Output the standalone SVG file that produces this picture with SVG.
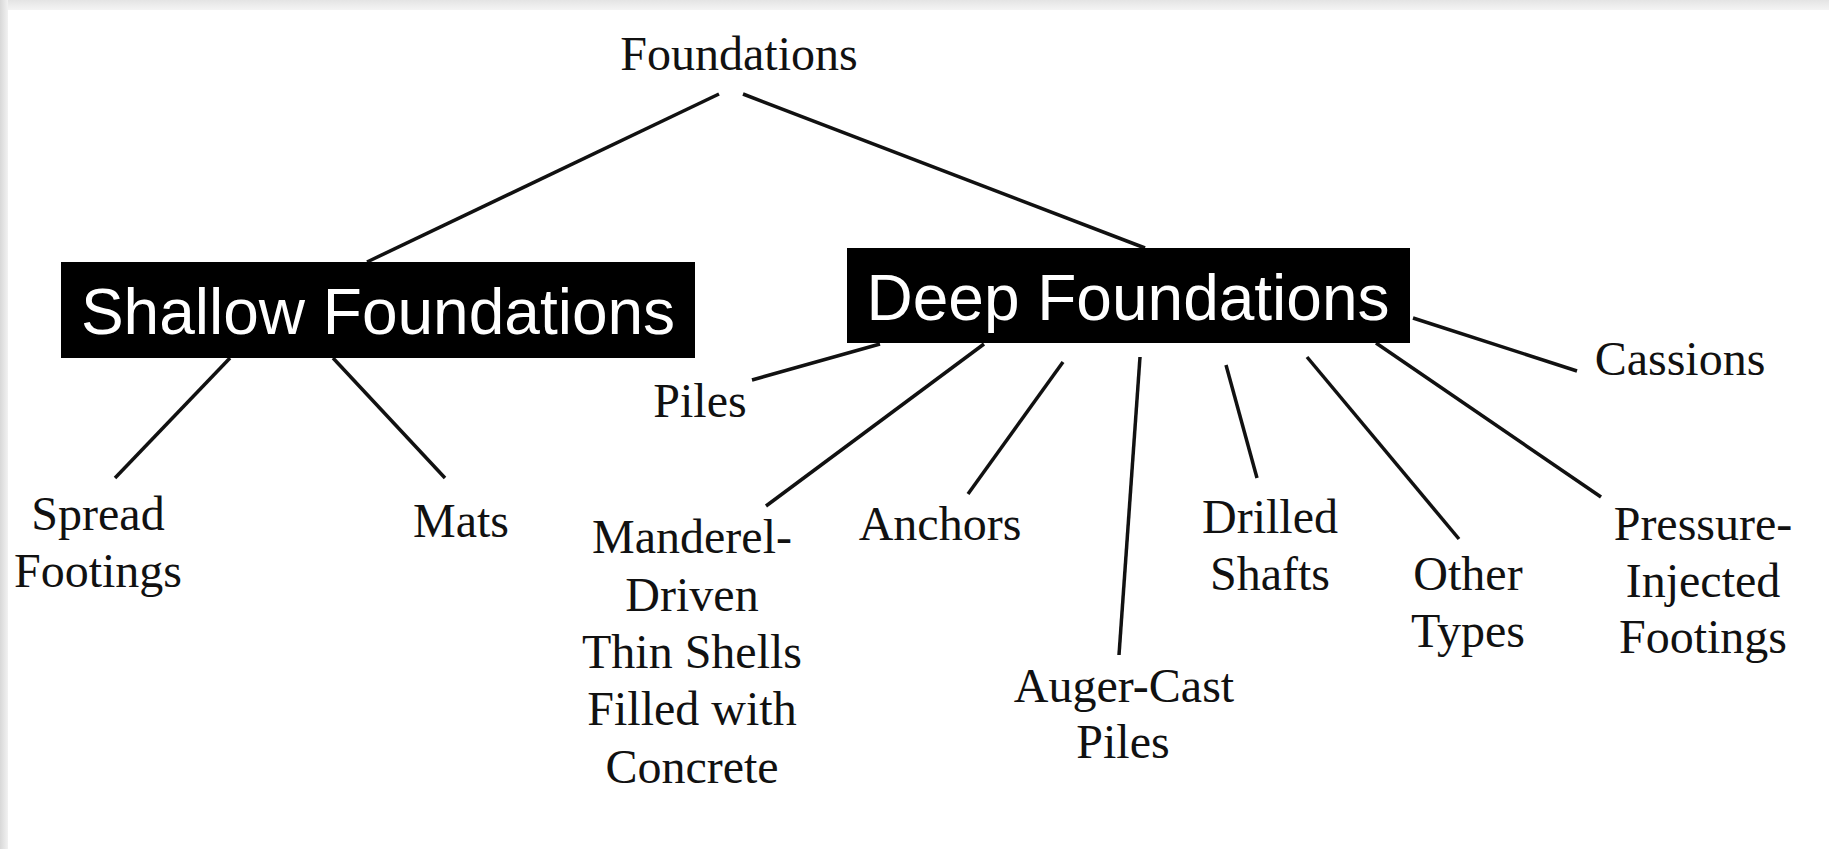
<svg xmlns="http://www.w3.org/2000/svg" width="1829" height="849" viewBox="0 0 1829 849">
<defs>
<linearGradient id="gl" x1="0" y1="0" x2="1" y2="0"><stop offset="0" stop-color="#d8d8d8"/><stop offset="1" stop-color="#f2f2f2"/></linearGradient>
<linearGradient id="gt" x1="0" y1="0" x2="0" y2="1"><stop offset="0" stop-color="#e4e4e4"/><stop offset="1" stop-color="#f4f4f4"/></linearGradient>
</defs>
<style>
.t{font-family:"Liberation Serif","Times New Roman",serif;font-size:48px;fill:#111;text-anchor:middle}
.b{font-family:"Liberation Sans",Arial,sans-serif;font-size:64px;fill:#fff;text-anchor:middle}
.c line{stroke:#111;stroke-width:3.5;stroke-linecap:butt}
</style>
<rect x="0" y="0" width="1829" height="849" fill="#fff"/>
<rect x="0" y="0" width="1829" height="10" fill="url(#gt)"/>
<rect x="0" y="0" width="8" height="849" fill="url(#gl)"/>
<g class="c" id="connectors">
<line x1="719" y1="94" x2="367" y2="262"/>
<line x1="743" y1="94" x2="1145" y2="248"/>
<line x1="230" y1="358" x2="115" y2="478"/>
<line x1="333" y1="358" x2="445" y2="478"/>
<line x1="880" y1="344" x2="752" y2="380"/>
<line x1="984" y1="344" x2="766" y2="506"/>
<line x1="1063" y1="362" x2="968" y2="494"/>
<line x1="1140" y1="357" x2="1119" y2="655"/>
<line x1="1226" y1="365" x2="1257" y2="478"/>
<line x1="1307" y1="357" x2="1459" y2="539"/>
<line x1="1376" y1="343" x2="1601" y2="497"/>
<line x1="1413" y1="318" x2="1577" y2="371"/>
</g>
<g id="foundations"><text class="t" x="739" y="70">Foundations</text></g>
<g id="shallow"><rect x="61" y="262" width="634" height="96" fill="#000"/><text class="b" x="378" y="334">Shallow Foundations</text></g>
<g id="deep"><rect x="847" y="248" width="563" height="95" fill="#000"/><text class="b" x="1128" y="320">Deep Foundations</text></g>
<g id="spread"><text class="t" x="98" y="530">Spread</text><text class="t" x="98" y="587">Footings</text></g>
<g id="mats"><text class="t" x="461" y="537">Mats</text></g>
<g id="piles"><text class="t" x="700" y="417">Piles</text></g>
<g id="manderel"><text class="t" x="692" y="553">Manderel-</text><text class="t" x="692" y="611">Driven</text><text class="t" x="692" y="668">Thin Shells</text><text class="t" x="692" y="725">Filled with</text><text class="t" x="692" y="783">Concrete</text></g>
<g id="anchors"><text class="t" x="940" y="540">Anchors</text></g>
<g id="auger"><text class="t" x="1124" y="702">Auger-Cast</text><text class="t" x="1123" y="758">Piles</text></g>
<g id="drilled"><text class="t" x="1270" y="533">Drilled</text><text class="t" x="1270" y="590">Shafts</text></g>
<g id="other"><text class="t" x="1468" y="590">Other</text><text class="t" x="1468" y="647">Types</text></g>
<g id="pressure"><text class="t" x="1703" y="540">Pressure-</text><text class="t" x="1703" y="597">Injected</text><text class="t" x="1703" y="653">Footings</text></g>
<g id="cassions"><text class="t" x="1680" y="375">Cassions</text></g>
</svg>
